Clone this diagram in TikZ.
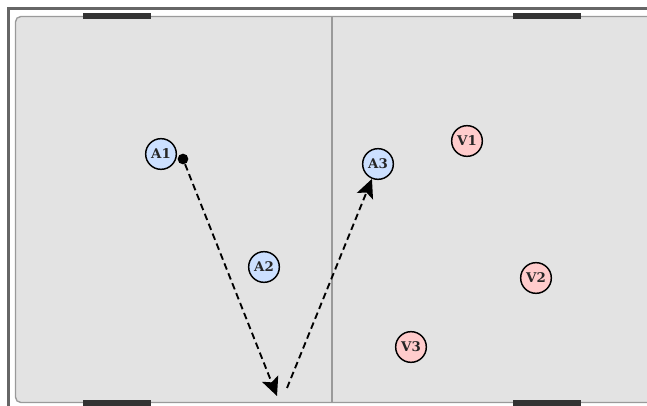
\documentclass[tikz,border=0pt]{standalone}
\usepackage{fontspec}
\setmainfont{DejaVu Serif}
\usetikzlibrary{arrows.meta}
\definecolor{courtfill}{HTML}{E3E3E3}
\definecolor{courtline}{HTML}{9A9A9A}
\definecolor{framecol}{HTML}{666666}
\definecolor{goalcol}{HTML}{333333}
\definecolor{bluefill}{HTML}{CCE0FF}
\definecolor{redfill}{HTML}{FFCCCC}
\tikzset{
  player/.style={circle, draw=black, line width=1.1pt, minimum size=23pt, inner sep=0pt,
    font=\fontsize{10}{10}\selectfont\bfseries, text=black!85},
  teamA/.style={player, fill=bluefill},
  teamV/.style={player, fill=redfill},
  pass/.style={line width=1.4pt, dash pattern=on 5pt off 3pt, -{Stealth[length=14pt,width=13pt,inset=3pt]}}
}
\begin{document}
\begin{tikzpicture}[x=0.75pt,y=-0.75pt]
\useasboundingbox (0,0) rectangle (647,406);
\fill[white] (0,0) rectangle (647,406);
\clip (0,0) rectangle (647,406);
% outer frame
\draw[framecol, line width=2.3pt] (8.5,420) -- (8.5,8.5) -- (660,8.5);
% court
\draw[courtline, fill=courtfill, line width=1pt, rounded corners=4pt] (15.5,16.5) rectangle (660,402.5);
% midline
\draw[courtline, line width=1.5pt] (332,16.5) -- (332,402.5);
% goals
\fill[goalcol] (83,13) rectangle (151,19);
\fill[goalcol] (513,13) rectangle (581,19);
\fill[goalcol] (83,400) rectangle (151,406);
\fill[goalcol] (513,400) rectangle (581,406);
% players
\node[teamA] (A1) at (161,154) {A1};
\node[teamA] (A2) at (264,267) {A2};
\node[teamA] (A3) at (378,164) {A3};
\node[teamV] (V1) at (467,141) {V1};
\node[teamV] (V2) at (536,278) {V2};
\node[teamV] (V3) at (411,347) {V3};
% ball
\node[circle, fill=black, minimum size=8pt, inner sep=0pt] (ball) at (183,159) {};
% passes
\coordinate (bounce) at (277,396);
\coordinate (start2) at (287,388);
\draw[pass] (ball) -- (bounce);
\draw[pass] (start2) -- (A3);
\end{tikzpicture}
\end{document}
